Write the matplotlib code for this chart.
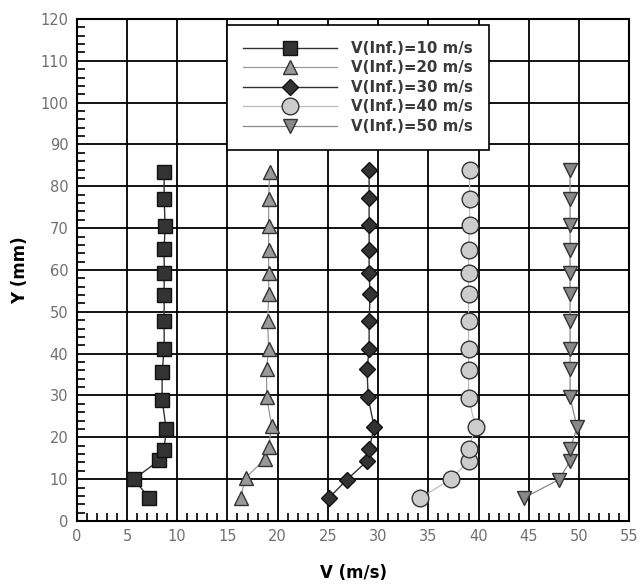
import matplotlib
matplotlib.use("Agg")
import matplotlib.pyplot as plt
from matplotlib.ticker import MultipleLocator

plt.rcParams['font.family'] = ['DejaVu Sans']

# measured profiles, Y in mm, V in m/s
y_10 = [5.5, 10.0, 14.5, 17.0, 22.0, 29.0, 35.7, 41.0, 47.7, 54.0, 59.3, 64.9, 70.5, 77.0, 83.5]
v_10 = [7.2, 5.7, 8.2, 8.7, 8.9, 8.5, 8.5, 8.7, 8.7, 8.7, 8.7, 8.7, 8.8, 8.7, 8.7]

y_20 = [5.5, 10.3, 14.7, 17.6, 22.8, 29.6, 36.3, 41.1, 47.7, 54.2, 59.3, 64.8, 70.6, 77.0, 83.5]
v_20 = [16.3, 16.8, 18.7, 19.1, 19.4, 18.9, 18.9, 19.1, 19.0, 19.1, 19.1, 19.1, 19.1, 19.1, 19.2]

y_30 = [5.5, 9.9, 14.3, 17.1, 22.5, 29.6, 36.3, 41.1, 47.7, 54.3, 59.2, 64.7, 70.7, 77.1, 83.8]
v_30 = [25.1, 26.9, 28.9, 29.1, 29.6, 29.0, 28.9, 29.1, 29.1, 29.2, 29.1, 29.1, 29.1, 29.1, 29.1]

y_40 = [5.5, 10.1, 14.3, 17.1, 22.4, 29.3, 36.1, 41.1, 47.7, 54.2, 59.2, 64.7, 70.7, 77.0, 83.8]
v_40 = [34.2, 37.3, 39.0, 39.0, 39.7, 39.0, 39.0, 39.0, 39.0, 39.0, 39.0, 39.0, 39.1, 39.1, 39.1]

y_50 = [5.5, 9.9, 14.3, 17.1, 22.4, 29.6, 36.3, 41.1, 47.7, 54.2, 59.2, 64.7, 70.7, 77.0, 83.8]
v_50 = [44.5, 48.0, 49.1, 49.1, 49.8, 49.1, 49.1, 49.1, 49.1, 49.1, 49.1, 49.1, 49.1, 49.1, 49.1]

labels = ["V(Inf.)=10 m/s", "V(Inf.)=20 m/s", "V(Inf.)=30 m/s",
          "V(Inf.)=40 m/s", "V(Inf.)=50 m/s"]

fig = plt.figure(figsize=(6.41, 5.88), dpi=100)
ax = fig.add_axes([0.1197, 0.114, 0.8621, 0.8537])

ax.plot(v_10, y_10, color='#333333', lw=1.0, marker='s', ms=10,
        mfc='#333333', mec='#111111', label=labels[0], zorder=3)
ax.plot(v_20, y_20, color='#999999', lw=0.9, marker='^', ms=10,
        mfc='#999999', mec='#333333', label=labels[1], zorder=3)
ax.plot(v_30, y_30, color='#333333', lw=1.0, marker='D', ms=8.5,
        mfc='#333333', mec='#111111', label=labels[2], zorder=3)
ax.plot(v_40, y_40, color='#bbbbbb', lw=0.9, marker='o', ms=12,
        mfc='#cccccc', mec='#333333', label=labels[3], zorder=3)
ax.plot(v_50, y_50, color='#888888', lw=0.9, marker='v', ms=10,
        mfc='#888888', mec='#333333', label=labels[4], zorder=3)

ax.set_xlim(0, 55)
ax.set_ylim(0, 120)
ax.xaxis.set_major_locator(MultipleLocator(5))
ax.xaxis.set_minor_locator(MultipleLocator(1))
ax.yaxis.set_major_locator(MultipleLocator(10))
ax.yaxis.set_minor_locator(MultipleLocator(2))
ax.tick_params(which='both', direction='in', top=False, right=False,
               colors='black', labelcolor='#707070', labelsize=10.5, pad=6)
ax.tick_params(which='major', length=0)
ax.tick_params(which='minor', length=5.5, width=1.2)
ax.grid(True, which='major', color='black', lw=1.3, zorder=1)
for s in ax.spines.values():
    s.set_linewidth(1.5)

ax.set_xlabel("V (m/s)", fontsize=12, fontweight='bold', labelpad=14)
ax.set_ylabel("Y (mm)", fontsize=12, fontweight='bold', labelpad=8)

leg = ax.legend(loc='upper left', bbox_to_anchor=(0.272, 0.988), fancybox=False,
                framealpha=1, edgecolor='black', handlelength=6.3,
                labelspacing=0.3, borderpad=1.05, handletextpad=0.9,
                borderaxespad=0, prop={'weight': 'bold', 'size': 10.8})
leg.get_frame().set_linewidth(1.2)
for t in leg.get_texts():
    t.set_color('#3a3a3a')

fig.savefig("out.png", dpi=100)
